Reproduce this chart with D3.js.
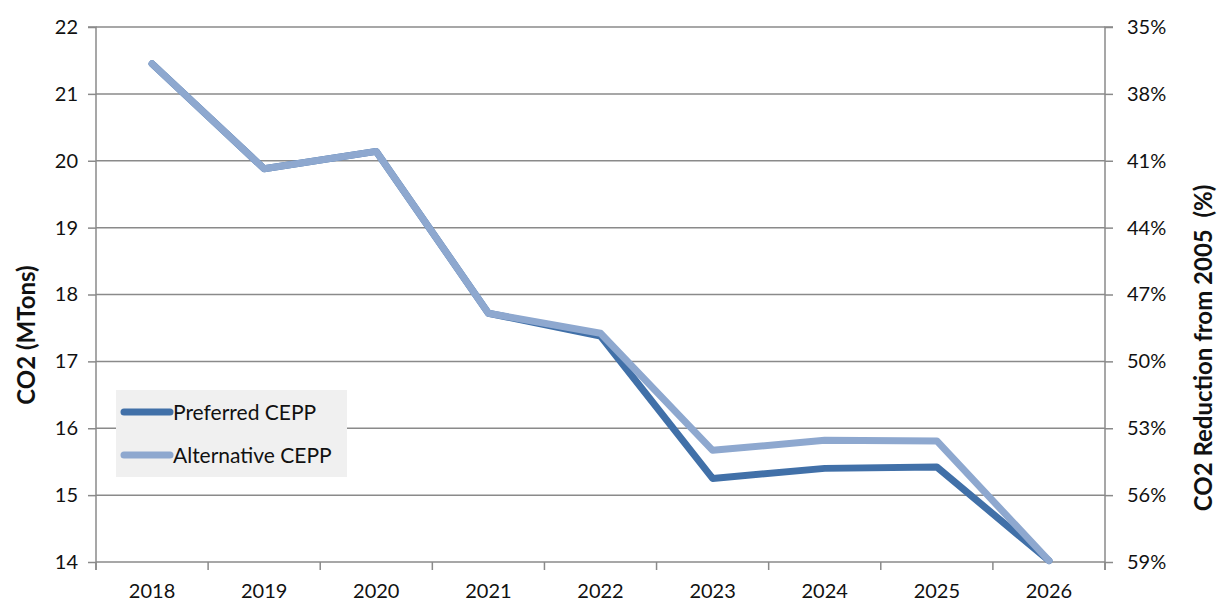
<!DOCTYPE html>
<html>
<head>
<meta charset="utf-8">
<script src="https://cdn.jsdelivr.net/npm/d3@7"></script>
<style>
  html, body { margin: 0; padding: 0; background: #fff; }
  svg { display: block; font-family: Lato, "Open Sans", sans-serif; }
</style>
</head>
<body>
<svg id="chart" width="1219" height="602"></svg>
<script>
// Annual CO2 emissions under two CEPP scenarios
const years = ["2018", "2019", "2020", "2021", "2022", "2023", "2024", "2025", "2026"];
const preferred = [21.45, 19.88, 20.14, 17.72, 17.38, 15.25, 15.40, 15.42, 14.02];
const alternative = [21.45, 19.88, 20.14, 17.72, 17.42, 15.67, 15.82, 15.81, 14.02];
const leftTicks = [14, 15, 16, 17, 18, 19, 20, 21, 22];
const rightTicks = [35, 38, 41, 44, 47, 50, 53, 56, 59];

const series = [
  { name: "Preferred CEPP", values: preferred, color: "#4170a8" },
  { name: "Alternative CEPP", values: alternative, color: "#8ea8cf" }
];

const svg = d3.select("#chart");
const m = { left: 96, right: 1105, top: 27, bottom: 562 };

const x = d3.scaleBand().domain(years).range([m.left, m.right]);
const y = d3.scaleLinear().domain([14, 22]).range([m.bottom, m.top]);
const yR = d3.scaleLinear().domain([59, 35]).range([m.bottom, m.top]);

const gridColor = "#8a8a8a";

// horizontal gridlines
svg.append("g")
  .selectAll("line")
  .data(leftTicks)
  .join("line")
  .attr("x1", m.left).attr("x2", m.right)
  .attr("y1", d => y(d)).attr("y2", d => y(d))
  .attr("stroke", gridColor).attr("stroke-width", 1.5);

// left axis
const gL = svg.append("g")
  .attr("transform", `translate(${m.left},0)`)
  .call(d3.axisLeft(y).tickValues(leftTicks).tickSize(8).tickPadding(10));
// right axis
const gR = svg.append("g")
  .attr("transform", `translate(${m.right},0)`)
  .call(d3.axisRight(yR).tickValues(rightTicks).tickSize(8).tickPadding(14)
    .tickFormat(d => d + "%"));
// bottom axis with ticks at category boundaries
const gB = svg.append("g")
  .attr("transform", `translate(0,${m.bottom})`)
  .call(d3.axisBottom(x).tickSize(0).tickPadding(22));
gB.selectAll(".bound")
  .data(years.map(d => x(d)).concat([m.right]))
  .join("line")
  .attr("class", "bound")
  .attr("x1", d => d).attr("x2", d => d)
  .attr("y1", 0).attr("y2", 8)
  .attr("stroke", gridColor).attr("stroke-width", 1.5);

[gL, gR, gB].forEach(g => {
  g.select(".domain").attr("stroke", gridColor).attr("stroke-width", 1.5);
  g.selectAll(".tick line").attr("stroke", gridColor).attr("stroke-width", 1.5);
  g.selectAll(".tick text")
    .attr("fill", "#111")
    .style("font-family", "Lato, 'Open Sans', sans-serif")
    .style("font-size", "20px");
});
gL.select(".domain").attr("d", `M-8,${m.top}H0V${m.bottom + 8}`);
gR.select(".domain").attr("d", `M8,${m.top}H0V${m.bottom + 8}`);
gB.select(".domain").remove();

// series lines
const line = d3.line()
  .x((d, i) => x(years[i]) + x.bandwidth() / 2)
  .y(d => y(d));

svg.append("g")
  .selectAll("path")
  .data(series)
  .join("path")
  .attr("d", d => line(d.values))
  .attr("fill", "none")
  .attr("stroke", d => d.color)
  .attr("stroke-width", 7)
  .attr("stroke-linecap", "round")
  .attr("stroke-linejoin", "round");

// legend
const lg = svg.append("g");
lg.append("rect")
  .attr("x", 116).attr("y", 390).attr("width", 231).attr("height", 87)
  .attr("fill", "#f0f0f0");
const items = lg.selectAll("g.item")
  .data(series)
  .join("g")
  .attr("class", "item")
  .attr("transform", (d, i) => `translate(0,${412 + i * 43})`);
items.append("line")
  .attr("x1", 124).attr("x2", 170)
  .attr("stroke", d => d.color).attr("stroke-width", 7)
  .attr("stroke-linecap", "round");
items.append("text")
  .attr("x", 173).attr("y", 0).attr("dy", "0.36em")
  .attr("fill", "#111")
  .style("font-size", "21px")
  .text(d => d.name);

// axis titles
svg.append("text")
  .attr("transform", "translate(35,335) rotate(-90)")
  .attr("text-anchor", "middle")
  .style("font-weight", "bold").style("font-size", "24px")
  .attr("fill", "#111")
  .text("CO2 (MTons)");
svg.append("text")
  .attr("transform", "translate(1212,348) rotate(-90)")
  .attr("text-anchor", "middle")
  .style("font-weight", "bold").style("font-size", "24px")
  .style("white-space", "pre")
  .attr("fill", "#111")
  .text("CO2 Reduction from 2005  (%)");
</script>
</body>
</html>
